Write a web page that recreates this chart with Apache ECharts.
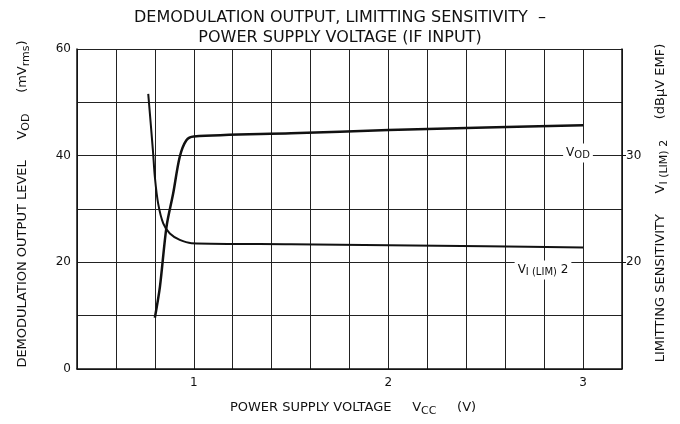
<!DOCTYPE html>
<html>
<head>
<meta charset="utf-8">
<script src="https://cdn.jsdelivr.net/npm/echarts@6/dist/echarts.min.js"></script>
<style>
  html, body { margin: 0; padding: 0; background: #fff; }
  #chart { width: 680px; height: 424px; }
</style>
</head>
<body>
<div id="chart"></div>
<script>
// Vcc (V) vs demodulation output level VOD (mVrms, left axis)
const vodVcc = [0.80, 0.826, 0.86, 0.894, 0.928, 0.962, 1.0, 1.5, 2.0, 2.5, 3.0]
const vodLevel = [9.6, 15.4, 26.7, 32.9, 39.8, 42.9, 43.6, 44.2, 44.8, 45.3, 45.7]

// Vcc (V) vs limiting sensitivity VI(LIM)2 (dBuV EMF, right axis)
const limVcc = [0.766, 0.79, 0.80, 0.817, 0.843, 0.877, 0.928, 0.988, 1.5, 2.0, 2.5, 3.0]
const limSens = [35.8, 30.5, 28.0, 25.5, 23.65, 22.7, 22.1, 21.8, 21.7, 21.6, 21.5, 21.4]

const xTicks = [1, 2, 3]
const leftTicks = [0, 20, 40, 60]
const rightTicks = [20, 30]

const font = '"DejaVu Sans", "Open Sans", sans-serif'
const ink = '#111'

const chart = echarts.init(document.getElementById('chart'))

const pairs = (xs, ys) => xs.map((x, i) => [x, ys[i]])

// rotated / subscripted axis names
const nameText = (text, x, y, rot, size) => ({
  type: 'text',
  x: x, y: y,
  rotation: rot,
  style: {
    text: text,
    font: size + 'px ' + font,
    fill: ink,
    align: 'center',
    verticalAlign: 'middle',
    rich: { s: { fontSize: size - 2, fontFamily: font, padding: [6, 0, 0, 0] } }
  }
})

const curveLabel = (text, x, y) => ({
  type: 'text',
  x: x, y: y,
  z: 100,
  style: {
    text: text,
    font: '12px ' + font,
    fill: ink,
    align: 'center',
    verticalAlign: 'middle',
    backgroundColor: '#fff',
    padding: [2, 3],
    rich: { s: { fontSize: 10, fontFamily: font, padding: [5, 0, 0, 0], backgroundColor: '#fff' } }
  }
})

chart.setOption({
  backgroundColor: '#fff',
  animation: false,
  textStyle: { fontFamily: font, color: ink },
  title: {
    text: 'DEMODULATION OUTPUT, LIMITTING SENSITIVITY  –\nPOWER SUPPLY VOLTAGE (IF INPUT)',
    left: 'center',
    top: 3,
    textStyle: { fontSize: 16, fontWeight: 'normal', fontFamily: font, color: ink, lineHeight: 20 }
  },
  grid: { left: 77, right: 58, top: 49, bottom: 55 },
  xAxis: {
    type: 'value',
    min: 0.4,
    max: 3.2,
    interval: 0.2,
    axisLine: { lineStyle: { color: ink, width: 1.5 } },
    axisTick: { show: false },
    axisLabel: { customValues: xTicks, fontSize: 12, color: ink, margin: 8 },
    splitLine: { show: true, lineStyle: { color: '#222', width: 1 } }
  },
  yAxis: [{
    type: 'value',
    min: 0,
    max: 60,
    interval: 10,
    axisLine: { show: true, lineStyle: { color: ink, width: 1.5 } },
    axisTick: { show: false },
    axisLabel: { customValues: leftTicks, fontSize: 12, color: ink, margin: 6 },
    splitLine: { show: true, lineStyle: { color: '#222', width: 1 } }
  }, {
    type: 'value',
    min: 10,
    max: 40,
    interval: 10,
    position: 'right',
    axisLine: { show: true, lineStyle: { color: ink, width: 1.5 } },
    axisTick: { show: true, customValues: rightTicks, length: 4, lineStyle: { color: ink } },
    axisLabel: { customValues: rightTicks, fontSize: 12, color: ink, margin: 4 },
    splitLine: { show: false }
  }],
  series: [{
    name: 'VOD',
    type: 'line',
    yAxisIndex: 0,
    data: pairs(vodVcc, vodLevel),
    smooth: 0.3,
    showSymbol: false,
    lineStyle: { color: ink, width: 2.5 }
  }, {
    name: 'VI(LIM)2',
    type: 'line',
    yAxisIndex: 1,
    data: pairs(limVcc, limSens),
    smooth: 0.3,
    showSymbol: false,
    lineStyle: { color: ink, width: 2 }
  }],
  graphic: [
    nameText('DEMODULATION OUTPUT LEVEL     V{s|OD}     (mV{s|rms})', 23, 204, Math.PI / 2, 13),
    nameText('LIMITTING SENSITIVITY     V{s|I (LIM) 2}     (dB\u03bcV EMF)', 661, 203, Math.PI / 2, 13),
    nameText('POWER SUPPLY VOLTAGE     V{s|CC}     (V)', 353, 408, 0, 13),
    curveLabel('V{s|OD}', 578, 153),
    curveLabel('V{s|I (LIM)} 2', 543, 270)
  ]
})
</script>
</body>
</html>
